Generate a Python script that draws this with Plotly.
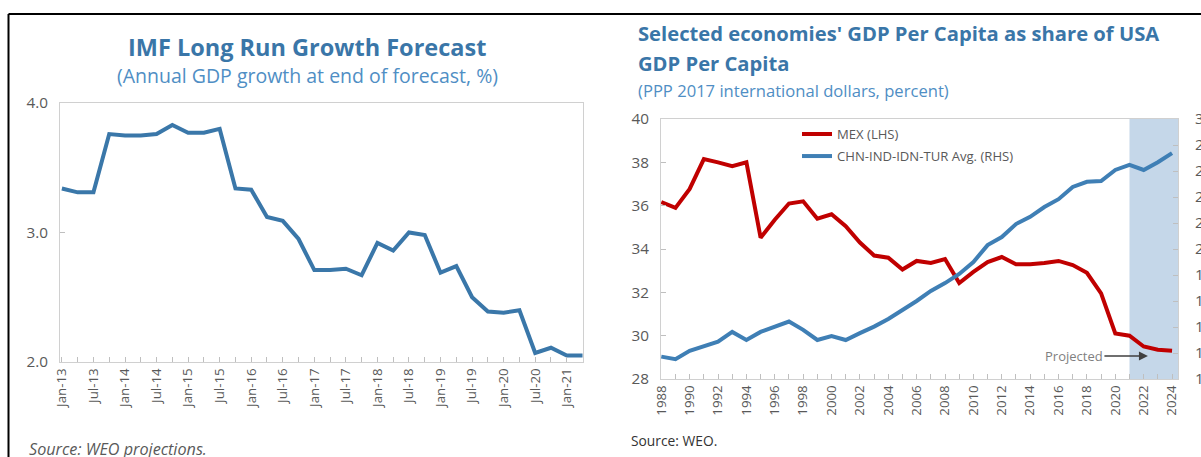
import plotly.graph_objects as go

W, H = 1201, 457

# ---------------- data: left panel ----------------
quarters = ["Jan-13", "Apr-13", "Jul-13", "Oct-13",
            "Jan-14", "Apr-14", "Jul-14", "Oct-14",
            "Jan-15", "Apr-15", "Jul-15", "Oct-15",
            "Jan-16", "Apr-16", "Jul-16", "Oct-16",
            "Jan-17", "Apr-17", "Jul-17", "Oct-17",
            "Jan-18", "Apr-18", "Jul-18", "Oct-18",
            "Jan-19", "Apr-19", "Jul-19", "Oct-19",
            "Jan-20", "Apr-20", "Jul-20", "Oct-20",
            "Jan-21", "Apr-21"]
growth = [3.34, 3.31, 3.31, 3.76,
          3.75, 3.75, 3.76, 3.83,
          3.77, 3.77, 3.80, 3.34,
          3.33, 3.12, 3.09, 2.95,
          2.71, 2.71, 2.72, 2.67,
          2.92, 2.86, 3.00, 2.98,
          2.69, 2.74, 2.50, 2.39,
          2.38, 2.40, 2.07, 2.11,
          2.05, 2.05]
left_yticks = [2.0, 3.0, 4.0]
left_yticktext = ["2.0", "3.0", "4.0"]

# ---------------- data: right panel ----------------
years = [1988, 1989, 1990, 1991, 1992, 1993, 1994, 1995, 1996, 1997,
         1998, 1999, 2000, 2001, 2002, 2003, 2004, 2005, 2006, 2007,
         2008, 2009, 2010, 2011, 2012, 2013, 2014, 2015, 2016, 2017,
         2018, 2019, 2020, 2021, 2022, 2023, 2024]
mex = [36.17, 35.90, 36.77, 38.15, 38.00, 37.82, 38.00, 34.52, 35.35, 36.10,
       36.20, 35.40, 35.60, 35.05, 34.30, 33.70, 33.60, 33.05, 33.45, 33.36,
       33.54, 32.43, 32.94, 33.40, 33.63, 33.30, 33.30, 33.35, 33.45, 33.26,
       32.90, 31.95, 30.10, 30.00, 29.50, 29.35, 29.30]
chn_avg = [11.72, 11.53, 12.17, 12.55, 12.87, 13.62, 13.00, 13.62, 14.03, 14.42,
           13.78, 13.00, 13.30, 13.00, 13.53, 14.03, 14.62, 15.30, 16.00, 16.77,
           17.38, 18.08, 19.00, 20.30, 20.92, 21.92, 22.47, 23.23, 23.83, 24.77,
           25.17, 25.23, 26.08, 26.47, 26.08, 26.67, 27.38]
projection_start = 2021
lhs_range = [28, 40]
rhs_range = [10, 30]

# ---------------- styling ----------------
FONT = "Open Sans"
GRAY = "#595959"
AXIS = "#d0d0d0"
TITLE_BLUE = "#3a76a8"
SUB_BLUE = "#4f8ec4"


def fx(px):
    return px / W


def fy(py):
    return 1 - py / H


fig = go.Figure()

fig.add_trace(go.Scatter(x=quarters, y=growth, mode="lines",
                         line=dict(color="#3a77a9", width=4),
                         xaxis="x", yaxis="y", showlegend=False))

fig.add_trace(go.Scatter(x=years, y=mex, mode="lines", name="MEX (LHS)",
                         legendgroup="mex",
                         line=dict(color="#c00000", width=4),
                         xaxis="x2", yaxis="y2"))
fig.add_trace(go.Scatter(x=years, y=chn_avg, mode="lines",
                         name="CHN-IND-IDN-TUR Avg. (RHS)", legendgroup="chn",
                         line=dict(color="#3f7fb5", width=4),
                         xaxis="x2", yaxis="y3"))

tickfont = dict(family=FONT, size=13.3, color=GRAY)
ytickfont = dict(family=FONT, size=15.3, color=GRAY)
common = dict(ticks="inside", ticklen=5, tickcolor="#bfbfbf",
              showline=True, linecolor=AXIS, linewidth=1,
              showgrid=False, zeroline=False, automargin=False)

fig.update_layout(
    width=W, height=H, autosize=False,
    margin=dict(l=0, r=0, t=0, b=0, pad=0),
    paper_bgcolor="white", plot_bgcolor="white",
    font=dict(family=FONT, color=GRAY),
    showlegend=True,
    legend=dict(x=fx(797), y=fy(119), xanchor="left", yanchor="top",
                bgcolor="rgba(0,0,0,0)", font=dict(family=FONT, size=13.1, color=GRAY),
                tracegroupgap=2),
    xaxis=dict(domain=[fx(60), fx(583)], anchor="y", type="category",
               range=[-0.12, 33.03],
               tickvals=quarters,
               ticktext=[q if q[:3] in ("Jan", "Jul") else "" for q in quarters],
               tickangle=-90, mirror=True, tickfont=tickfont, **common),
    yaxis=dict(domain=[fy(362), fy(103)], anchor="x", range=[2, 4],
               tickvals=left_yticks, ticktext=left_yticktext,
               mirror=True, tickfont=ytickfont, ticklabelstandoff=8, **common),
    xaxis2=dict(domain=[fx(661), fx(1178)], anchor="y2",
                range=[1987.98, 2024.42],
                tickvals=years,
                ticktext=[str(y) if y % 2 == 0 else "" for y in years],
                tickangle=-90, mirror=True, tickfont=tickfont, **common),
    yaxis2=dict(domain=[fy(379), fy(119)], anchor="x2", range=lhs_range, dtick=2,
                mirror=True, tickfont=ytickfont, ticklabelstandoff=8, **common),
    yaxis3=dict(overlaying="y2", side="right", anchor="x2", range=rhs_range, dtick=2,
                tickfont=ytickfont, ticklabelstandoff=13, **common),
)

# shaded projection window
fig.add_shape(type="rect", xref="x2", yref="y2 domain",
              x0=projection_start, x1=2024.42, y0=0, y1=1,
              fillcolor="#c5d7e9", line=dict(width=0), layer="below")

# outer black frame (top and left edges)
fig.add_shape(type="line", xref="paper", yref="paper",
              x0=fx(8.5), x1=1, y0=fy(14), y1=fy(14),
              line=dict(color="black", width=2))
fig.add_shape(type="line", xref="paper", yref="paper",
              x0=fx(8.5), x1=fx(8.5), y0=fy(14), y1=0,
              line=dict(color="black", width=2))

ann = []
ann.append(dict(text="<b>IMF Long Run Growth Forecast</b>", x=fx(307), y=fy(47),
                xref="paper", yref="paper", xanchor="center", yanchor="middle",
                showarrow=False, font=dict(family=FONT, size=23.5, color=TITLE_BLUE)))
ann.append(dict(text="(Annual GDP growth at end of forecast, %)", x=fx(307), y=fy(76),
                xref="paper", yref="paper", xanchor="center", yanchor="middle",
                showarrow=False, font=dict(family=FONT, size=19.5, color=SUB_BLUE)))
ann.append(dict(text="<i>Source: WEO projections.</i>", x=fx(27), y=fy(449),
                xref="paper", yref="paper", xanchor="left", yanchor="middle",
                showarrow=False, font=dict(family=FONT, size=16.2, color=GRAY)))

ann.append(dict(text="<b>Selected economies' GDP Per Capita as share of USA</b>",
                x=fx(636), y=fy(33), xref="paper", yref="paper",
                xanchor="left", yanchor="middle", showarrow=False,
                font=dict(family=FONT, size=20.2, color=TITLE_BLUE)))
ann.append(dict(text="<b>GDP Per Capita</b>",
                x=fx(636), y=fy(63), xref="paper", yref="paper",
                xanchor="left", yanchor="middle", showarrow=False,
                font=dict(family=FONT, size=20.2, color=TITLE_BLUE)))
ann.append(dict(text="(PPP 2017 international dollars, percent)",
                x=fx(636), y=fy(90), xref="paper", yref="paper",
                xanchor="left", yanchor="middle", showarrow=False,
                font=dict(family=FONT, size=16.6, color=SUB_BLUE)))
ann.append(dict(text="Source: WEO.", x=fx(629), y=fy(440),
                xref="paper", yref="paper", xanchor="left", yanchor="middle",
                showarrow=False, font=dict(family=FONT, size=13.8, color="#333333")))

ann.append(dict(text="Projected", x=2022.3, y=29.06, xref="x2", yref="y2",
                ax=-74, ay=0, showarrow=True, arrowhead=2, arrowsize=1.2,
                arrowwidth=1.5, arrowcolor="#404040",
                font=dict(family=FONT, size=13, color="#7f7f7f")))

fig.update_layout(annotations=ann)

pin_js = (
    "var s=document.createElement('style');"
    "s.textContent='html,body{margin:0!important;padding:0!important;overflow:hidden!important;}';"
    "document.head.appendChild(s);"
)

fig.write_html("out.html", config={"displayModeBar": False}, post_script=pin_js)
